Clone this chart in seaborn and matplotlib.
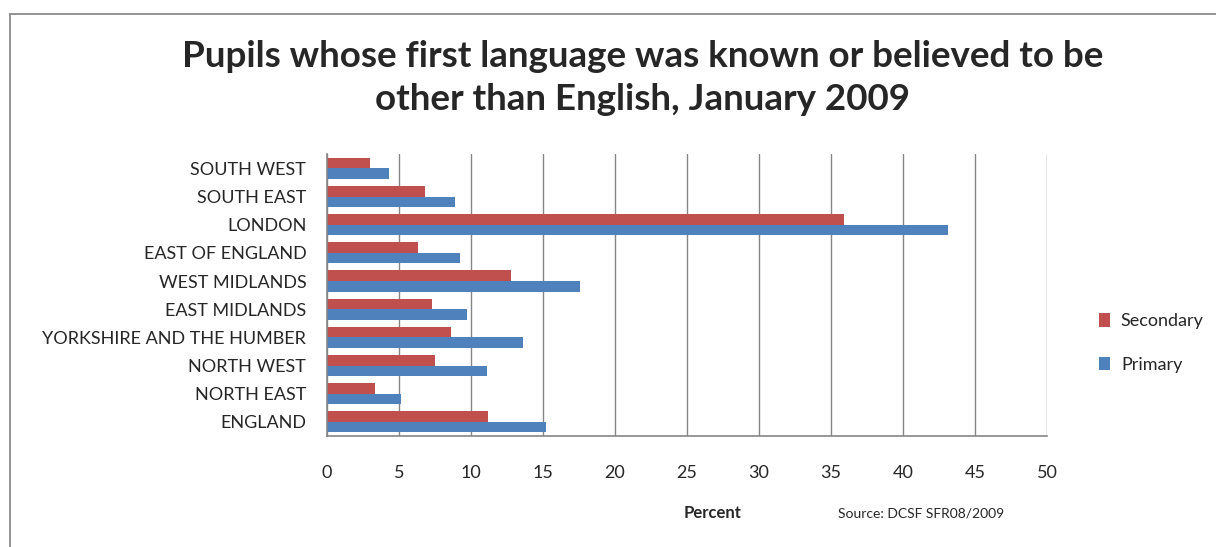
import numpy as np
import pandas as pd
import matplotlib
matplotlib.use('Agg')
import matplotlib.pyplot as plt
import seaborn as sns
from matplotlib.patches import Rectangle

# data (percent)
regions = ['SOUTH WEST', 'SOUTH EAST', 'LONDON', 'EAST OF ENGLAND', 'WEST MIDLANDS',
           'EAST MIDLANDS', 'YORKSHIRE AND THE HUMBER', 'NORTH WEST', 'NORTH EAST', 'ENGLAND']
secondary = [3.0, 6.8, 35.9, 6.3, 12.8, 7.3, 8.6, 7.5, 3.3, 11.2]
primary = [4.3, 8.9, 43.1, 9.2, 17.6, 9.7, 13.6, 11.1, 5.1, 15.2]
xticks = [0, 5, 10, 15, 20, 25, 30, 35, 40, 45, 50]

df = pd.DataFrame({'region': regions * 2,
                   'value': secondary + primary,
                   'phase': ['Secondary'] * len(regions) + ['Primary'] * len(regions)})

sns.set_style('white')
plt.rcParams['font.family'] = ['Lato', 'DejaVu Sans']

fig = plt.figure(figsize=(12.16, 5.47), dpi=100)
ax = fig.add_axes([0.269, 0.203, 0.592, 0.515])

sns.barplot(data=df, y='region', x='value', hue='phase', order=regions,
            hue_order=['Secondary', 'Primary'], orient='h',
            palette={'Secondary': '#C0504D', 'Primary': '#4F81BD'}, saturation=1,
            width=0.75, linewidth=0, errorbar=None, ax=ax)

ax.set_xlim(0, 50)
ax.set_ylim(len(regions) - 0.5, -0.5)
ax.set_xticks(xticks)
ax.set_xticklabels([str(t) for t in xticks], fontsize=13)
ax.tick_params(axis='x', length=5, width=1, color='#868686', pad=16)
ax.tick_params(axis='y', which='major', length=0, pad=15, labelsize=13)
ax.set_yticks(np.arange(-0.5, len(regions)), minor=True)
ax.tick_params(axis='y', which='minor', length=5, width=1, color='#868686')
ax.grid(axis='x', color='#868686', linewidth=1)
ax.set_axisbelow(True)
for s in ['top', 'right']:
    ax.spines[s].set_visible(False)
for s in ['left', 'bottom']:
    ax.spines[s].set_color('#868686')
    ax.spines[s].set_linewidth(1.2)
ax.set_ylabel('')
ax.set_xlabel('Percent', fontsize=12, fontweight='bold')
ax.xaxis.set_label_coords(0.535, -0.245)

leg = ax.legend(loc='center left', bbox_to_anchor=(1.05, 0.33), frameon=False,
                fontsize=13, handlelength=0.6, handleheight=0.8,
                labelspacing=1.5, handletextpad=0.6)

fig.text(0.5285, 0.857, 'Pupils whose first language was known or believed to be\nother than English, January 2009',
         ha='center', va='center', fontsize=26.5, fontweight='bold', linespacing=1.35)
fig.text(0.689, 0.062, 'Source: DCSF SFR08/2009', fontsize=10, va='center')

# outer chart frame
fig.patches.append(Rectangle((0.008, -0.1), 1.1, 1.075, transform=fig.transFigure,
                             fill=False, edgecolor='#8a8a8a', linewidth=1.3, clip_on=False))

fig.savefig('out.png', dpi=100)
